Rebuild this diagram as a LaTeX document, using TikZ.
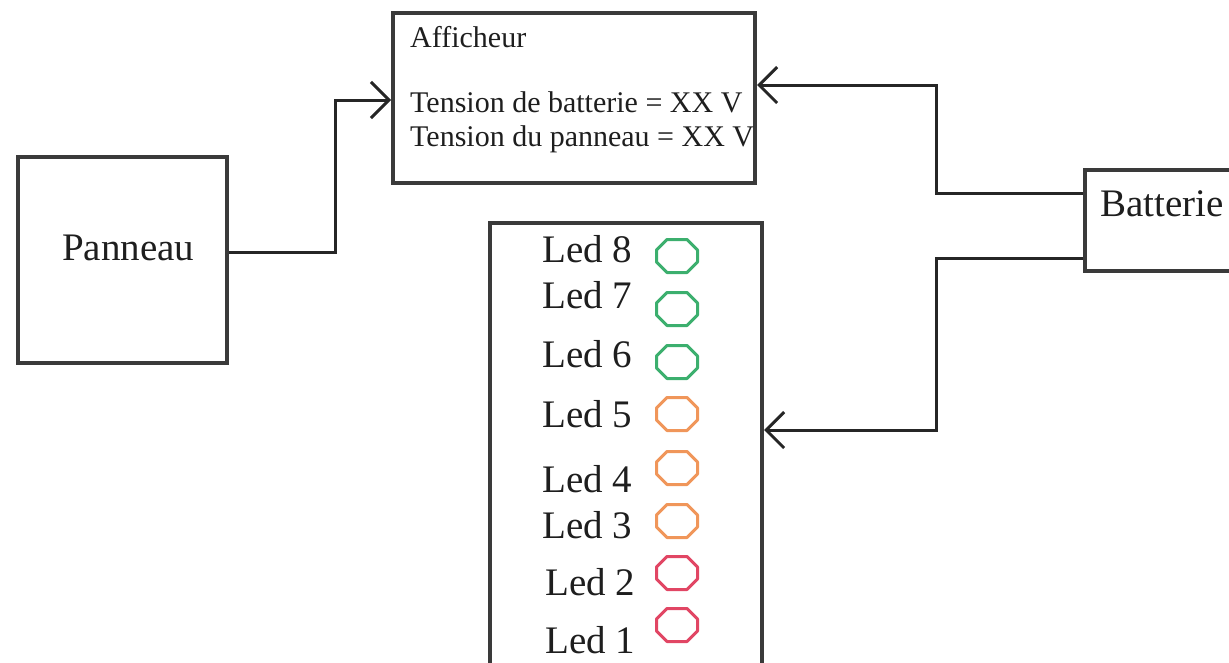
\documentclass[tikz,border=0pt]{standalone}
\usepackage{fontspec}
\setmainfont{Liberation Serif}
\usetikzlibrary{arrows.meta}
\definecolor{boxc}{HTML}{3A3A3A}
\definecolor{txtc}{HTML}{1E1E1E}
\definecolor{ledg}{RGB}{60,175,110}
\definecolor{ledo}{RGB}{240,150,90}
\definecolor{ledr}{RGB}{225,70,100}
\begin{document}
\begin{tikzpicture}[x=1pt,y=-1pt,
  blk/.style={draw=boxc, line width=4pt, rectangle, inner sep=0pt},
  conn/.style={draw=black!85, line width=3pt, -{Straight Barb[length=18pt,width=36pt]}},
  big/.style={text=txtc, inner sep=0pt, font=\fontsize{39}{47}\selectfont},
  small/.style={text=txtc, inner sep=0pt, font=\fontsize{30}{33}\selectfont},
  octo/.pic={\draw[line width=3pt, line join=round, pic actions]
    (-20.5,-6) -- (-10,-16.5) -- (10,-16.5) -- (20.5,-6) -- (20.5,6)
    -- (10,16.5) -- (-10,16.5) -- (-20.5,6) -- cycle;}
]
\useasboundingbox (0,0) rectangle (1229,662);
\clip (0,0) rectangle (1229,662);
% blocks
\node[blk, minimum width=209pt, minimum height=206pt] (pan) at (122.5,259.5) {};
\node[blk, minimum width=362pt, minimum height=170pt] (aff) at (574,98) {};
\node[blk, minimum width=175pt, minimum height=101pt] (bat) at (1172.5,220.5) {};
\node[blk, minimum width=272pt, minimum height=497pt] (led) at (626,471.5) {};
% texts
\node[big, anchor=base west] (tpan) at (62,260) {Panneau};
\node[big, anchor=base west] (tbat) at (1100,216) {Batterie};
\node[small, anchor=base west] (taff) at (410,47) {Afficheur};
\node[small, anchor=base west] (tbv) at (410,112) {Tension de batterie = XX V};
\node[small, anchor=base west] (tpv) at (410,146) {Tension du panneau = XX V};
% leds
\node[big, anchor=base west] (t8) at (542,262) {Led 8};
\node[big, anchor=base west] (t7) at (542,308) {Led 7};
\node[big, anchor=base west] (t6) at (542,367) {Led 6};
\node[big, anchor=base west] (t5) at (542,427) {Led 5};
\node[big, anchor=base west] (t4) at (542,492) {Led 4};
\node[big, anchor=base west] (t3) at (542,538) {Led 3};
\node[big, anchor=base west] (t2) at (545,595) {Led 2};
\node[big, anchor=base west] (t1) at (545,653) {Led 1};
\pic[draw=ledg] (o8) at (677,256) {octo};
\pic[draw=ledg] (o7) at (677,309) {octo};
\pic[draw=ledg] (o6) at (677,362) {octo};
\pic[draw=ledo] (o5) at (677,414) {octo};
\pic[draw=ledo] (o4) at (677,468) {octo};
\pic[draw=ledo] (o3) at (677,521) {octo};
\pic[draw=ledr] (o2) at (677,573) {octo};
\pic[draw=ledr] (o1) at (677,625) {octo};
% connectors
\draw[conn] ([yshift=7.5pt]pan.east) -- ++(106,0) |- ([yshift=-2pt]aff.west);
\draw[conn] ([yshift=27.5pt]bat.west) -- ++(-147,0) |- ([yshift=13pt]aff.east);
\draw[conn] ([yshift=-37.5pt]bat.west) -- ++(-147,0) |- ([yshift=41.5pt]led.east);
\end{tikzpicture}
\end{document}
